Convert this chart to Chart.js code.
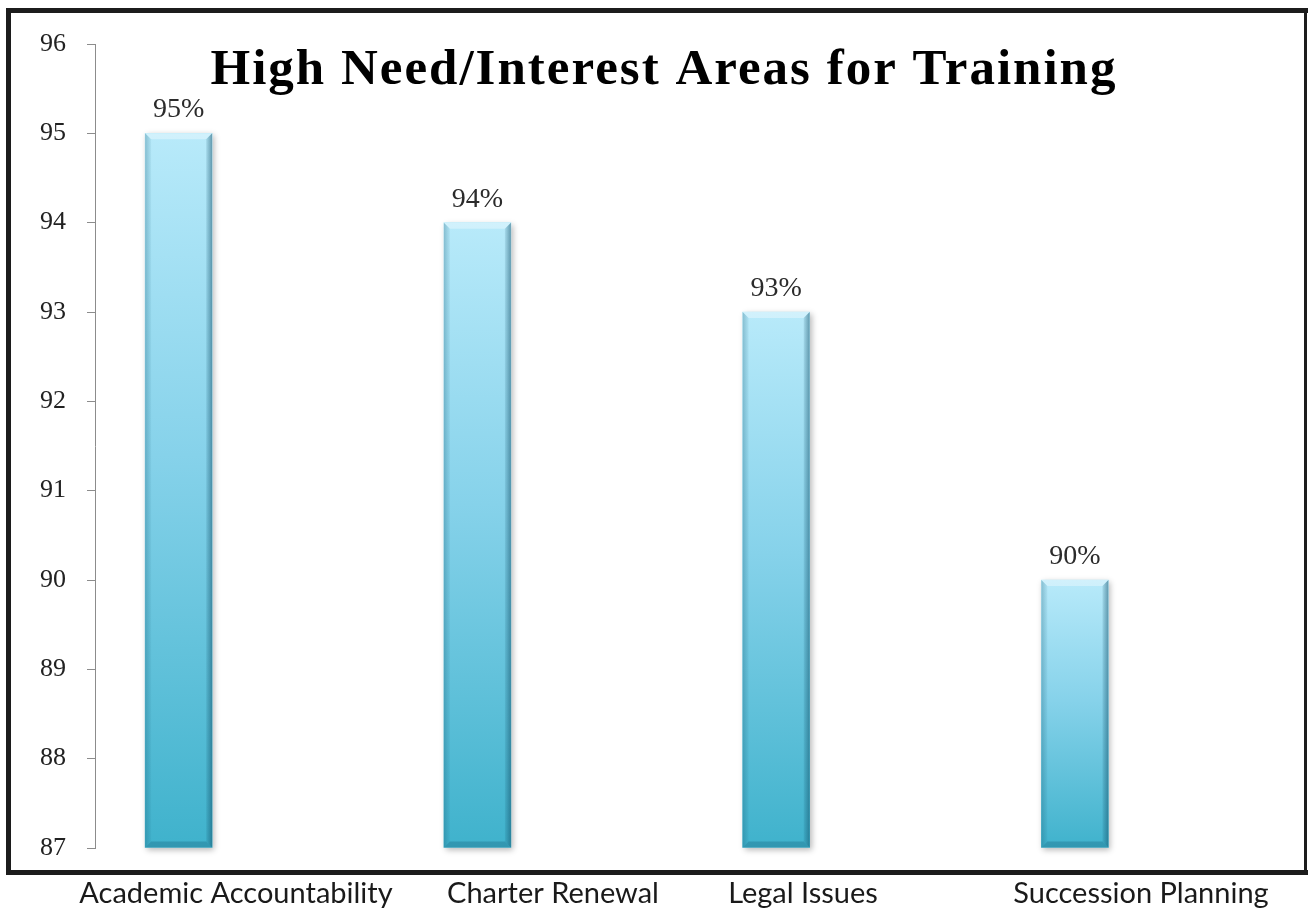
<!DOCTYPE html>
<html>
<head>
<meta charset="utf-8">
<title>High Need/Interest Areas for Training</title>
<script src="https://cdn.jsdelivr.net/npm/chart.js@4.4.1/dist/chart.umd.min.js"></script>
<style>
  html, body { margin: 0; padding: 0; background: #fff; }
  #wrap { position: relative; width: 1309px; height: 913px; }
</style>
</head>
<body>
<div id="wrap"><canvas id="trainingChart"></canvas></div>
<script>
/* Survey results: share of respondents naming each area */
const categories = ['Academic Accountability', 'Charter Renewal', 'Legal Issues', 'Succession Planning'];
const percentValues = [95, 94, 93, 90];
const yTickMin = 87;
const yTickMax = 96;
const chartTitle = 'High Need/Interest Areas for Training';

/* The area names sit under the frame as free text, not under each bar */
const labelCentersX = [236, 553, 803, 1141];
const labelBaselineY = 903;

const SERIF = '"Liberation Serif", "DejaVu Serif", serif';

/* Light cyan at the top of each bar, deeper teal at the base */
function barGradient(context) {
  const chart = context.chart;
  const y = chart.scales.y;
  if (!chart.chartArea || !y) return '#7fcde6';
  const value = context.raw && context.raw.y !== undefined ? context.raw.y : context.raw;
  const top = y.getPixelForValue(value);
  const base = y.getPixelForValue(yTickMin);
  const g = chart.ctx.createLinearGradient(0, top, 0, base);
  g.addColorStop(0, '#b8eafa');
  g.addColorStop(0.45, '#86d2ea');
  g.addColorStop(1, '#3fb2cc');
  return g;
}

/* Soft drop shadow behind each bar */
const barShadow = {
  id: 'barShadow',
  beforeDatasetsDraw(chart) {
    const ctx = chart.ctx;
    ctx.save();
    chart.getDatasetMeta(0).data.forEach((bar) => {
      const w = bar.width;
      ctx.shadowColor = 'rgba(0, 0, 0, 0.28)';
      ctx.shadowBlur = 6;
      ctx.shadowOffsetX = 2;
      ctx.shadowOffsetY = 2;
      ctx.fillStyle = '#fff';
      ctx.fillRect(bar.x - w / 2, bar.y, w, bar.base - bar.y);
    });
    ctx.restore();
  }
};

/* Bevelled edges: light top lip, darker sides and base */
const barBevel = {
  id: 'barBevel',
  afterDatasetsDraw(chart) {
    const ctx = chart.ctx;
    ctx.save();
    chart.getDatasetMeta(0).data.forEach((bar) => {
      const w = bar.width;
      const l = bar.x - w / 2, r = bar.x + w / 2;
      const t = bar.y, b = bar.base;
      const e = 6;

      // top lip
      ctx.fillStyle = 'rgba(255, 255, 255, 0.35)';
      ctx.beginPath();
      ctx.moveTo(l, t); ctx.lineTo(r, t); ctx.lineTo(r - e, t + e); ctx.lineTo(l + e, t + e);
      ctx.closePath(); ctx.fill();

      // base lip
      ctx.fillStyle = 'rgba(20, 90, 115, 0.30)';
      ctx.beginPath();
      ctx.moveTo(l, b); ctx.lineTo(r, b); ctx.lineTo(r - e, b - e); ctx.lineTo(l + e, b - e);
      ctx.closePath(); ctx.fill();

      // left side
      let g = ctx.createLinearGradient(l, 0, l + e, 0);
      g.addColorStop(0, 'rgba(20, 90, 115, 0.30)');
      g.addColorStop(1, 'rgba(20, 90, 115, 0.05)');
      ctx.fillStyle = g;
      ctx.beginPath();
      ctx.moveTo(l, t); ctx.lineTo(l + e, t + e); ctx.lineTo(l + e, b - e); ctx.lineTo(l, b);
      ctx.closePath(); ctx.fill();

      // right side
      g = ctx.createLinearGradient(r - e, 0, r, 0);
      g.addColorStop(0, 'rgba(15, 75, 100, 0.10)');
      g.addColorStop(1, 'rgba(15, 75, 100, 0.50)');
      ctx.fillStyle = g;
      ctx.beginPath();
      ctx.moveTo(r, t); ctx.lineTo(r - e, t + e); ctx.lineTo(r - e, b - e); ctx.lineTo(r, b);
      ctx.closePath(); ctx.fill();
    });
    ctx.restore();
  }
};

/* Percentage above each bar, plus the title inside the plot */
const valueLabels = {
  id: 'valueLabels',
  afterDatasetsDraw(chart) {
    const ctx = chart.ctx;
    ctx.save();
    ctx.font = '28px ' + SERIF;
    ctx.fillStyle = '#2b2b2b';
    ctx.textAlign = 'center';
    ctx.textBaseline = 'alphabetic';
    chart.getDatasetMeta(0).data.forEach((bar, i) => {
      ctx.fillText(percentValues[i] + '%', bar.x, bar.y - 16);
    });

    ctx.font = 'bold 51px ' + SERIF;
    ctx.letterSpacing = '2px';
    ctx.fillStyle = '#000';
    ctx.fillText(chartTitle, 664, 84);
    ctx.restore();
  }
};

/* Outer black frame and the area names beneath it */
const frameAndNames = {
  id: 'frameAndNames',
  afterDraw(chart) {
    const ctx = chart.ctx;
    ctx.save();
    ctx.fillStyle = '#1c1c1c';
    ctx.fillRect(6, 8, 1302, 5);    // top
    ctx.fillRect(6, 870, 1302, 5);  // bottom
    ctx.fillRect(6, 8, 5, 867);     // left
    ctx.fillRect(1304, 8, 3, 867);  // right

    ctx.font = '29px Lato, "Open Sans", sans-serif';
    ctx.fillStyle = '#1a1a1a';
    ctx.textAlign = 'center';
    ctx.textBaseline = 'alphabetic';
    categories.forEach((name, i) => {
      ctx.fillText(name, labelCentersX[i], labelBaselineY);
    });
    ctx.restore();
  }
};

new Chart(document.getElementById('trainingChart'), {
  type: 'bar',
  data: {
    datasets: [{
      data: categories.map((c, i) => ({ x: i, y: percentValues[i] })),
      base: yTickMin,
      backgroundColor: barGradient,
      borderWidth: 0,
      barThickness: 67
    }]
  },
  options: {
    responsive: true,
    maintainAspectRatio: false,
    animation: false,
    layout: { padding: { left: 0, right: 19, top: 44, bottom: 65 } },
    plugins: {
      legend: { display: false },
      tooltip: { enabled: false }
    },
    scales: {
      x: {
        type: 'linear',
        display: false,
        offset: false,
        min: -0.28,
        max: 3.72
      },
      y: {
        min: yTickMin,
        max: yTickMax,
        beginAtZero: false,
        afterFit(scale) { scale.width = 95; },
        border: { display: true, color: '#8c8c8c', width: 1 },
        grid: {
          display: true,
          drawOnChartArea: false,
          drawTicks: true,
          tickLength: 8,
          color: '#8c8c8c'
        },
        ticks: {
          stepSize: 1,
          padding: 21,
          color: '#222',
          font: { family: SERIF, size: 26 }
        }
      }
    }
  },
  plugins: [barShadow, barBevel, valueLabels, frameAndNames]
});
</script>
</body>
</html>
